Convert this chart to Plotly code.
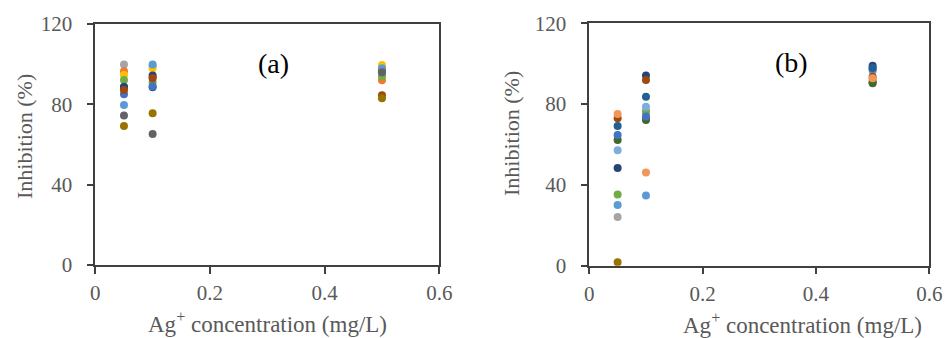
import plotly.graph_objects as go

# Ag+ concentrations (mg/L)
conc = [0.05, 0.1, 0.5]

# Panel (a) inhibition (%) per series
a_blue = [85.0, 89.0, 96.0]
a_orange = [96.5, 93.5, 92.0]
a_gray = [99.8, 99.0, 97.0]
a_gold = [94.6, 98.0, 99.6]
a_lightblue = [79.7, 99.8, 98.0]
a_green = [92.1, 91.0, 94.0]
a_navy = [88.5, 94.3, 97.5]
a_darkorange = [87.1, 93.0, 84.5]
a_darkgray = [74.4, 65.2, 96.0]
a_darkgold = [69.2, 75.5, 83.0]
a_steel = [88.8, 88.5, 97.0]

# Panel (b) inhibition (%) per series
b_lightorange = [75.1, 46.1, 92.8]
b_darkorange = [73.0, 91.9, 93.6]
b_steel = [69.2, 83.7, 98.0]
b_blue = [64.7, 73.8, 97.5]
b_darkgreen = [62.2, 72.1, 90.3]
b_paleblue = [57.1, 78.7, 97.2]
b_navy = [48.4, 94.1, 99.0]
b_green = [35.2, 75.8, 90.8]
b_lightblue = [30.0, 34.7, 96.5]
b_gray = [24.1, 77.0, 92.0]
b_darkgold = [1.7, 73.0, 91.0]

series_a = [
    (a_gray, "#A5A5A5"), (a_orange, "#ED7D31"), (a_gold, "#FFC000"),
    (a_green, "#70AD47"), (a_steel, "#255E91"), (a_navy, "#264478"),
    (a_blue, "#4472C4"), (a_darkorange, "#9E480E"), (a_lightblue, "#5B9BD5"),
    (a_darkgray, "#636363"), (a_darkgold, "#997300"),
]
series_b = [
    (b_gray, "#A5A5A5"), (b_darkgold, "#997300"), (b_lightblue, "#5B9BD5"),
    (b_green, "#70AD47"), (b_navy, "#264478"), (b_paleblue, "#7CAFDD"),
    (b_darkgreen, "#43682B"), (b_blue, "#4472C4"), (b_steel, "#255E91"),
    (b_darkorange, "#9E480E"), (b_lightorange, "#F1975A"),
]

xticks = [0, 0.2, 0.4, 0.6]
yticks = [0, 40, 80, 120]

fig = go.Figure()
for vals, col in series_a:
    fig.add_trace(go.Scatter(x=conc, y=vals, mode="markers", xaxis="x", yaxis="y",
                             marker=dict(color=col, size=8), showlegend=False))
for vals, col in series_b:
    fig.add_trace(go.Scatter(x=conc, y=vals, mode="markers", xaxis="x2", yaxis="y2",
                             marker=dict(color=col, size=8), showlegend=False))

W, H = 946, 338
font_fam = "Liberation Serif"
tickfont = dict(family=font_fam, size=21, color="#595959")
line_col = "#404040"

def xax(dom, anchor):
    return dict(domain=dom, anchor=anchor, range=[0, 0.6], tickvals=xticks,
                ticktext=["0", "0.2", "0.4", "0.6"], showgrid=False, zeroline=False,
                showline=True, mirror=True, linecolor=line_col, linewidth=1.5,
                ticks="outside", ticklen=7, tickwidth=1.5, tickcolor=line_col,
                tickfont=tickfont, ticklabelstandoff=1, automargin=False)

def yax(dom, anchor):
    return dict(domain=dom, anchor=anchor, range=[0, 120], tickvals=yticks,
                showgrid=False, zeroline=False,
                showline=True, mirror=True, linecolor=line_col, linewidth=1.5,
                ticks="outside", ticklen=7, tickwidth=1.5, tickcolor=line_col,
                tickfont=tickfont, ticklabelstandoff=10, automargin=False)

ytitlefont = dict(family=font_fam, size=22, color="#595959")
xtitlefont = dict(family=font_fam, size=23, color="#595959")

def note(text, px, py, font, angle=0):
    return dict(text=text, x=px / W, y=1 - py / H, xref="paper", yref="paper",
                xanchor="center", yanchor="middle", showarrow=False,
                textangle=angle, font=font)

annotations = [
    note("(a)", 273, 64, dict(family=font_fam, size=28, color="#000000")),
    note("(b)", 791, 63, dict(family=font_fam, size=28, color="#000000")),
    note("Inhibition (%)", 24, 137, ytitlefont, -90),
    note("Inhibition (%)", 511, 134, ytitlefont, -90),
    note("Ag<sup>+</sup> concentration (mg/L)", 267, 322, xtitlefont),
    note("Ag<sup>+</sup> concentration (mg/L)", 802, 323, xtitlefont),
]

fig.update_layout(
    width=W, height=H, margin=dict(l=0, r=0, t=0, b=0),
    paper_bgcolor="white", plot_bgcolor="white",
    xaxis=xax([95.3 / W, 439.3 / W], "y"),
    yaxis=yax([1 - 265 / H, 1 - 24 / H], "x"),
    xaxis2=xax([589.3 / W, 929.3 / W], "y2"),
    yaxis2=yax([1 - 265.7 / H, 1 - 23.3 / H], "x2"),
    annotations=annotations,
)

fig.write_html("out.html")
